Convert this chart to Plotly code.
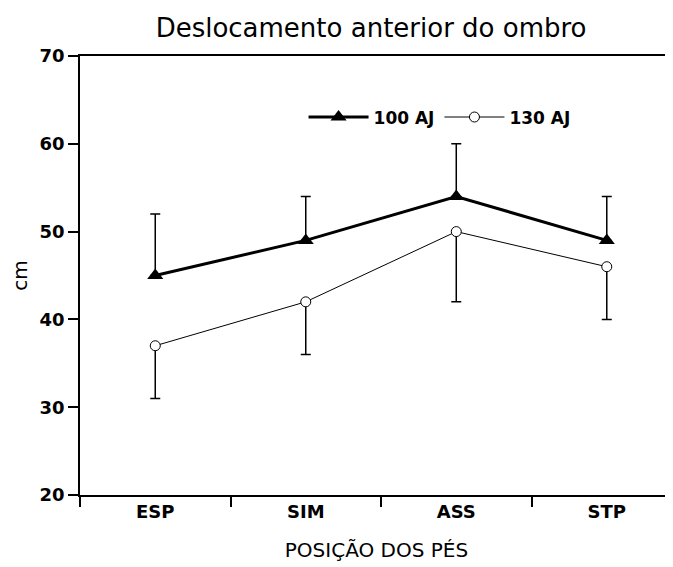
import plotly.graph_objects as go

# posições dos pés
categorias = ["ESP", "SIM", "ASS", "STP"]

# deslocamento (cm)
aj100 = [45, 49, 54, 49]
aj100_dp = [7, 5, 6, 5]      # barra só para cima
aj130 = [37, 42, 50, 46]
aj130_dp = [6, 6, 8, 6]      # barra só para baixo

y_ticks = [20, 30, 40, 50, 60, 70]

fig = go.Figure()

fig.add_trace(go.Scatter(
    x=categorias, y=aj100, name="100 AJ",
    mode="lines+markers",
    line=dict(color="black", width=3),
    marker=dict(symbol="triangle-up", size=14, color="black"),
    error_y=dict(type="data", symmetric=False, array=aj100_dp,
                 arrayminus=[0] * len(aj100_dp),
                 color="black", thickness=1.5, width=5),
))

fig.add_trace(go.Scatter(
    x=categorias, y=aj130, name="130 AJ",
    mode="lines+markers",
    line=dict(color="black", width=1),
    marker=dict(symbol="circle", size=10, color="white",
                line=dict(color="black", width=1)),
    error_y=dict(type="data", symmetric=False, array=[0] * len(aj130_dp),
                 arrayminus=aj130_dp,
                 color="black", thickness=1.5, width=5),
))

# a página tem margem de 8px no body -> figura um pouco menor
fig.update_layout(
    width=665, height=559,
    paper_bgcolor="white", plot_bgcolor="white",
    margin=dict(l=70, r=0, t=48, b=72),
    font=dict(family="DejaVu Sans", color="black"),
    title=dict(text="Deslocamento anterior do ombro", x=0.546, xanchor="center",
               y=0.964, yanchor="middle",
               font=dict(size=26, family="DejaVu Sans")),
    showlegend=True,
    legend=dict(orientation="h", x=0.377, xanchor="left", y=0.86, yanchor="middle",
                bgcolor="rgba(0,0,0,0)", itemwidth=60,
                font=dict(size=17, family="DejaVu Sans", weight="bold"),
                traceorder="normal"),
)

fig.update_xaxes(
    type="category", range=[-0.5, 3.44],
    showline=True, linecolor="black", linewidth=1.5, mirror=True,
    ticks="outside", tickson="boundaries", ticklen=10, tickwidth=1.5, tickcolor="black",
    showgrid=False, zeroline=False,
    tickfont=dict(size=18, family="DejaVu Sans", weight="bold"),
    title=dict(text="POSIÇÃO DOS PÉS", font=dict(size=20, family="DejaVu Sans"),
               standoff=22),
)

fig.update_yaxes(
    range=[20, 70], tickvals=y_ticks,
    showline=True, linecolor="black", linewidth=1.5,
    ticks="outside", ticklen=10, tickwidth=1.5, tickcolor="black",
    showgrid=False, zeroline=False,
    tickfont=dict(size=18, family="DejaVu Sans", weight="bold"),
    title=dict(text="cm", font=dict(size=20, family="DejaVu Sans"), standoff=18),
)

fig.write_html("out.html")
